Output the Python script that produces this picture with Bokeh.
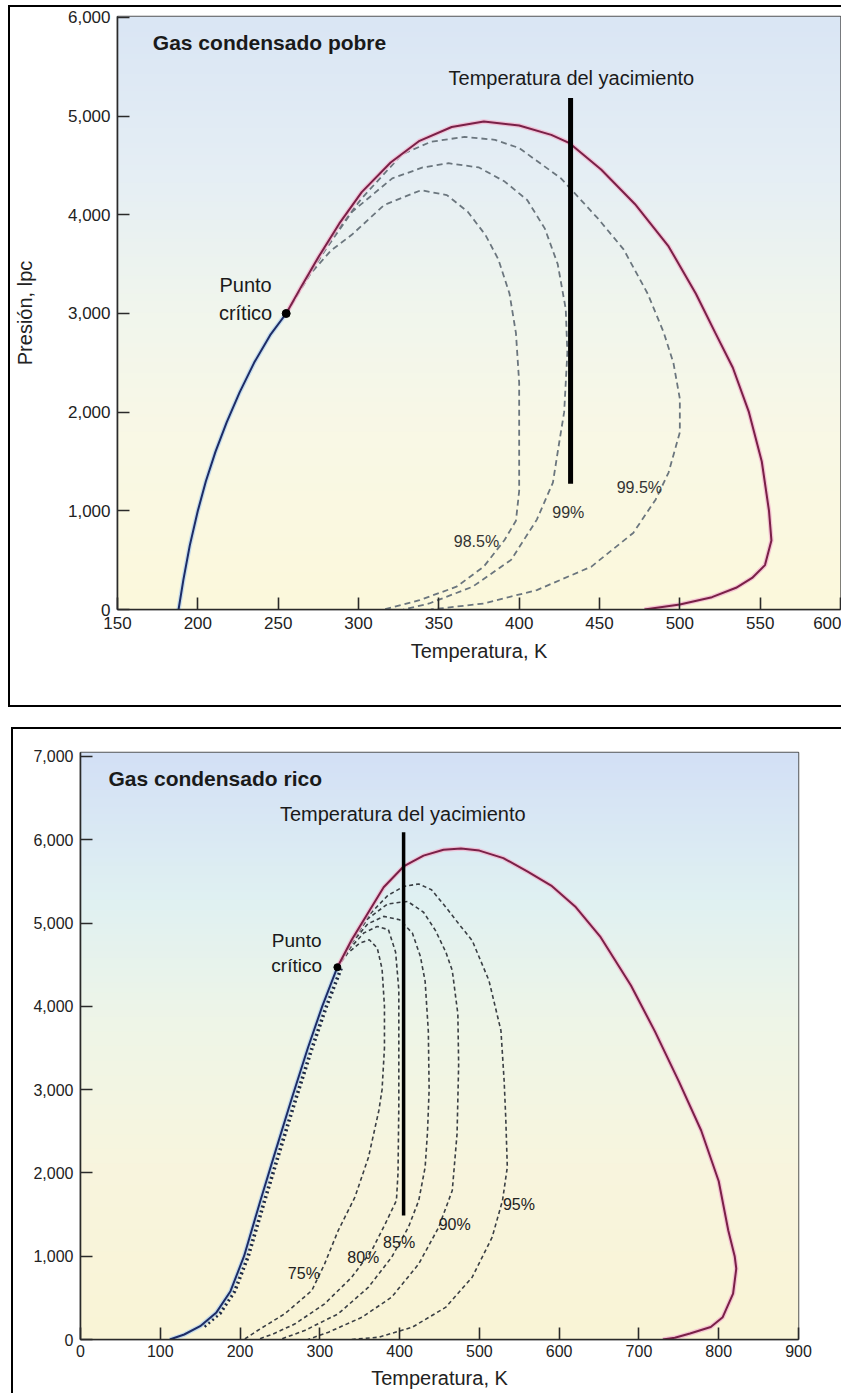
import numpy as np
from bokeh.plotting import figure
from bokeh.models import NumeralTickFormatter, FixedTicker
from bokeh.core.properties import value
from bokeh.embed import file_html
from bokeh.resources import INLINE

# ---------------- data: lean gas condensate (Gas condensado pobre) ----------------
pobre_bubble_T = [188, 191, 195, 200, 205, 211, 218, 226, 235, 245, 255]
pobre_bubble_P = [0, 300, 650, 1000, 1300, 1600, 1900, 2200, 2500, 2780, 3000]

pobre_dew_T = [255, 265, 275, 288, 302, 320, 338, 358, 378, 400, 420, 431, 451, 472, 493, 510,
               522, 533, 543, 551, 555.5, 557, 553, 545, 535, 520, 500, 478]
pobre_dew_P = [3000, 3290, 3570, 3910, 4230, 4530, 4750, 4890, 4945, 4905, 4810, 4730, 4460, 4110,
               3680, 3200, 2806, 2450, 2000, 1500, 1000, 700, 450, 320, 220, 125, 50, 0]

pobre_q985_T = [255, 262, 270, 283, 296, 316, 339, 355, 368, 379, 387, 394, 398, 400, 400, 398, 391, 378, 361, 338, 316]
pobre_q985_P = [3000, 3190, 3400, 3640, 3800, 4100, 4250, 4200, 4031, 3796, 3550, 3200, 2800, 2300, 1200, 900, 707, 435, 231, 95, 0]

pobre_q99_T = [255, 265, 280, 296, 321, 340, 356, 375, 391, 405, 416, 424, 429, 430, 428, 425, 421, 411, 395, 371, 344, 328]
pobre_q99_P = [3000, 3280, 3660, 4031, 4370, 4480, 4523, 4480, 4337, 4150, 3860, 3500, 3044, 2600, 2000, 1700, 1286, 911, 503, 231, 61, 0]

pobre_q995_T = [255, 268, 283, 302, 327, 345, 366, 385, 400, 426, 449, 465, 480, 490, 496, 500, 500, 493, 485, 471, 445, 411, 378, 345]
pobre_q995_P = [3000, 3350, 3760, 4167, 4612, 4740, 4790, 4760, 4677, 4370, 3963, 3650, 3200, 2806, 2500, 2136, 1796, 1388, 1116, 776, 435, 197, 61, 0]

pobre_quality_labels = ["98.5%", "99%", "99.5%"]
pobre_crit = (255, 3000)
pobre_res_T = 432
pobre_res_P = [1275, 5184]

# ---------------- data: rich gas condensate (Gas condensado rico) ----------------
rico_bubble_T = [112, 130, 150, 170, 188, 205, 225, 245, 265, 285, 303, 322]
rico_bubble_P = [0, 60, 160, 320, 580, 1000, 1650, 2280, 2900, 3500, 4000, 4470]

rico_dew_T = [322, 340, 360, 380, 405, 430, 455, 477, 500, 530, 560, 590, 620, 652, 690, 720, 750, 778,
              800, 812, 820, 822, 818, 805, 790, 764, 745, 730]
rico_dew_P = [4470, 4800, 5114, 5430, 5680, 5810, 5880, 5894, 5870, 5780, 5620, 5450, 5200, 4830, 4250,
              3700, 3100, 2509, 1900, 1308, 1000, 850, 550, 268, 150, 72, 20, 0]

rico_q75_T = [322, 335, 350, 362, 372, 378, 381, 381, 378, 374, 361, 344, 323, 306, 290, 256, 222, 205]
rico_q75_P = [4470, 4640, 4760, 4800, 4700, 4450, 4000, 3500, 3000, 2750, 2189, 1709, 1308, 908, 588, 308, 108, 0]

rico_q80_T = [322, 338, 355, 372, 386, 395, 399, 399, 399, 398, 396, 382, 365, 340, 306, 269, 240, 222]
rico_q80_P = [4470, 4700, 4880, 4960, 4920, 4650, 4200, 3500, 2800, 2000, 1669, 1389, 1068, 748, 428, 188, 60, 0]

rico_q85_T = [322, 340, 360, 380, 400, 416, 426, 432, 436, 437, 435, 432, 424, 411, 390, 361, 323, 281, 250]
rico_q85_P = [4470, 4760, 4990, 5080, 5040, 4880, 4600, 4300, 3700, 3000, 2500, 2069, 1669, 1348, 988, 628, 308, 108, 0]

rico_q90_T = [322, 340, 360, 385, 410, 430, 445, 458, 466, 473, 474, 472, 466, 449, 424, 390, 353, 311, 285]
rico_q90_P = [4470, 4780, 5050, 5230, 5260, 5130, 4910, 4650, 4430, 3910, 3300, 2469, 1789, 1348, 908, 508, 268, 88, 0]

rico_q95_T = [322, 342, 362, 385, 405, 424, 440, 458, 475, 491, 512, 527, 531, 533, 535, 529, 516, 491, 458, 416, 374, 340]
rico_q95_P = [4470, 4800, 5100, 5330, 5440, 5470, 5400, 5190, 4980, 4790, 4310, 3710, 3110, 2669, 2069, 1669, 1228, 748, 388, 148, 28, 0]

rico_quality_labels = ["75%", "80%", "85%", "90%", "95%"]
rico_crit = (322, 4470)
rico_res_T = 405
rico_res_P = [1489, 6090]

pobre_xticks = [150, 200, 250, 300, 350, 400, 450, 500, 550, 600]
pobre_yticks = [0, 1000, 2000, 3000, 4000, 5000, 6000]
rico_xticks = [0, 100, 200, 300, 400, 500, 600, 700, 800, 900]
rico_yticks = [0, 1000, 2000, 3000, 4000, 5000, 6000, 7000]

FONT = "Liberation Sans"


def gradient(stops, n=240):
    img = np.empty((n, 1), dtype=np.uint32)
    view = img.view(dtype=np.uint8).reshape((n, 1, 4))
    fr = np.array([s[0] for s in stops])
    cols = np.array([[int(s[1][i:i + 2], 16) for i in (1, 3, 5)] for s in stops], dtype=float)
    t = np.linspace(0, 1, n)
    for c in range(3):
        view[:, 0, c] = np.interp(t, fr, cols[:, c]).astype(np.uint8)
    view[:, 0, 3] = 255
    return img


def style_axes(p, xticks, yticks, fsize):
    p.xgrid.visible = False
    p.ygrid.visible = False
    p.xaxis.ticker = FixedTicker(ticks=xticks)
    p.yaxis.ticker = FixedTicker(ticks=yticks)
    p.yaxis.formatter = NumeralTickFormatter(format="0,0")
    for ax in (p.xaxis[0], p.yaxis[0]):
        ax.axis_line_color = "#2a2a2a"
        ax.axis_line_width = 1.6
        ax.major_tick_line_color = "#2a2a2a"
        ax.major_tick_line_width = 1.6
        ax.major_tick_in = 12
        ax.major_tick_out = 0
        ax.minor_tick_line_color = None
        ax.major_label_text_font = FONT
        ax.major_label_text_font_size = fsize
        ax.major_label_text_color = "#222222"
        ax.axis_label_text_font = FONT
        ax.axis_label_text_font_size = "20px"
        ax.axis_label_text_font_style = "normal"
        ax.axis_label_text_color = "#222222"
    p.yaxis.major_label_standoff = 7
    p.outline_line_color = "#555555"
    p.outline_line_width = 1.5


def envelope(p, bT, bP, dT, dP):
    p.line(dT, dP, line_color="#f2b6cf", line_width=4.5, line_alpha=0.8)
    p.line(dT, dP, line_color="#7a2047", line_width=2)
    p.line(bT, bP, line_color="#b8d4ee", line_width=4.5, line_alpha=0.8)
    p.line(bT, bP, line_color="#1d2c66", line_width=2)


def txt(p, x, y, s, size, align="left", bold=False, color="#1a1a1a"):
    p.text(x=[x], y=[y], text=[s], text_font=value(FONT), text_font_size=size,
           text_font_style="bold" if bold else "normal", text_align=align,
           text_baseline="middle", text_color=color)


# ---------------- top chart ----------------
p1 = figure(width=833, height=702, x_range=(150, 600), y_range=(0, 6010), title=None,
            output_backend="svg", toolbar_location=None,
            min_border_left=105, min_border_right=3, min_border_top=9, min_border_bottom=100,
            border_fill_color="white",
            styles={"border-top": "2px solid black", "border-left": "2px solid black",
                    "border-bottom": "2px solid black", "margin-left": "8px", "margin-top": "5px",
                    "box-sizing": "border-box"})
p1.image_rgba(image=[gradient([(0.0, "#fcf8dc"), (0.3, "#f9f8e6"), (0.5, "#f1f6ed"),
                               (0.72, "#e6eff4"), (1.0, "#dae6f5")])],
              x=150, y=0, dw=450, dh=6010)
style_axes(p1, pobre_xticks, pobre_yticks, "17px")
p1.xaxis.axis_label = "Temperatura, K"
p1.xaxis.major_label_standoff = 7
p1.xaxis.axis_label_standoff = 8
p1.yaxis.axis_label = "Presión, lpc"
p1.yaxis.axis_label_standoff = 29

for qT, qP in ((pobre_q985_T, pobre_q985_P), (pobre_q99_T, pobre_q99_P), (pobre_q995_T, pobre_q995_P)):
    p1.line(qT, qP, line_color="#6b767e", line_width=1.8, line_dash="6 4")
envelope(p1, pobre_bubble_T, pobre_bubble_P, pobre_dew_T, pobre_dew_P)
p1.line([pobre_res_T, pobre_res_T], pobre_res_P, line_color="black", line_width=5)
p1.scatter([pobre_crit[0]], [pobre_crit[1]], size=8, color="black")

txt(p1, 172, 5745, "Gas condensado pobre", "21px", bold=True)
txt(p1, 432.5, 5388, "Temperatura del yacimiento", "20px", align="center")
txt(p1, 229.7, 3286, "Punto", "20px", align="center")
txt(p1, 229.7, 3010, "crítico", "20px", align="center")
for (x, y), s in zip([(373.4, 694), (430.6, 980), (474.8, 1235)], pobre_quality_labels):
    txt(p1, x, y, s, "16px", align="center", color="#333333")

# ---------------- bottom chart ----------------
p2 = figure(width=830, height=666, x_range=(0, 900), y_range=(0, 7048), title=None,
            output_backend="svg", toolbar_location=None,
            min_border_left=67, min_border_right=45, min_border_top=23, min_border_bottom=56,
            border_fill_color="white",
            styles={"border-top": "2px solid black", "border-left": "2px solid black",
                    "margin-left": "11px", "margin-top": "20px", "box-sizing": "border-box"})
p2.image_rgba(image=[gradient([(0.0, "#faf4d6"), (0.3, "#f8f5de"), (0.55, "#eef5e8"),
                               (0.75, "#e0f1f2"), (1.0, "#d3e0f6")])],
              x=0, y=0, dw=900, dh=7048)
style_axes(p2, rico_xticks, rico_yticks, "16px")
p2.xaxis.axis_label = "Temperatura, K"
p2.xaxis.major_label_standoff = 5
p2.xaxis.axis_label_standoff = 7

for qT, qP in ((rico_q75_T, rico_q75_P), (rico_q80_T, rico_q80_P), (rico_q85_T, rico_q85_P),
               (rico_q90_T, rico_q90_P), (rico_q95_T, rico_q95_P)):
    p2.line(qT, qP, line_color="#3a3f44", line_width=1.6, line_dash="4 3")
# dashed fringe that runs along the bubble-point curve
p2.line([t + 5 for t in rico_bubble_T[2:]], rico_bubble_P[2:], line_color="#1f2a44",
        line_width=4, line_dash="2 3")
envelope(p2, rico_bubble_T, rico_bubble_P, rico_dew_T, rico_dew_P)
p2.line([rico_res_T, rico_res_T], rico_res_P, line_color="black", line_width=3.5)
p2.scatter([rico_crit[0]], [rico_crit[1]], size=7, color="black")

txt(p2, 35, 6736, "Gas condensado rico", "21px", bold=True)
txt(p2, 404, 6315, "Temperatura del yacimiento", "20px", align="center")
txt(p2, 271, 4790, "Punto", "19px", align="center")
txt(p2, 271, 4490, "crítico", "19px", align="center")
for (x, y), s in zip([(280, 798), (354.5, 988), (399.4, 1159), (469, 1381), (549.6, 1621)], rico_quality_labels):
    txt(p2, x, y, s, "16px", align="center", color="#222222")

open("out.html", "w").write(file_html([p1, p2], INLINE))
